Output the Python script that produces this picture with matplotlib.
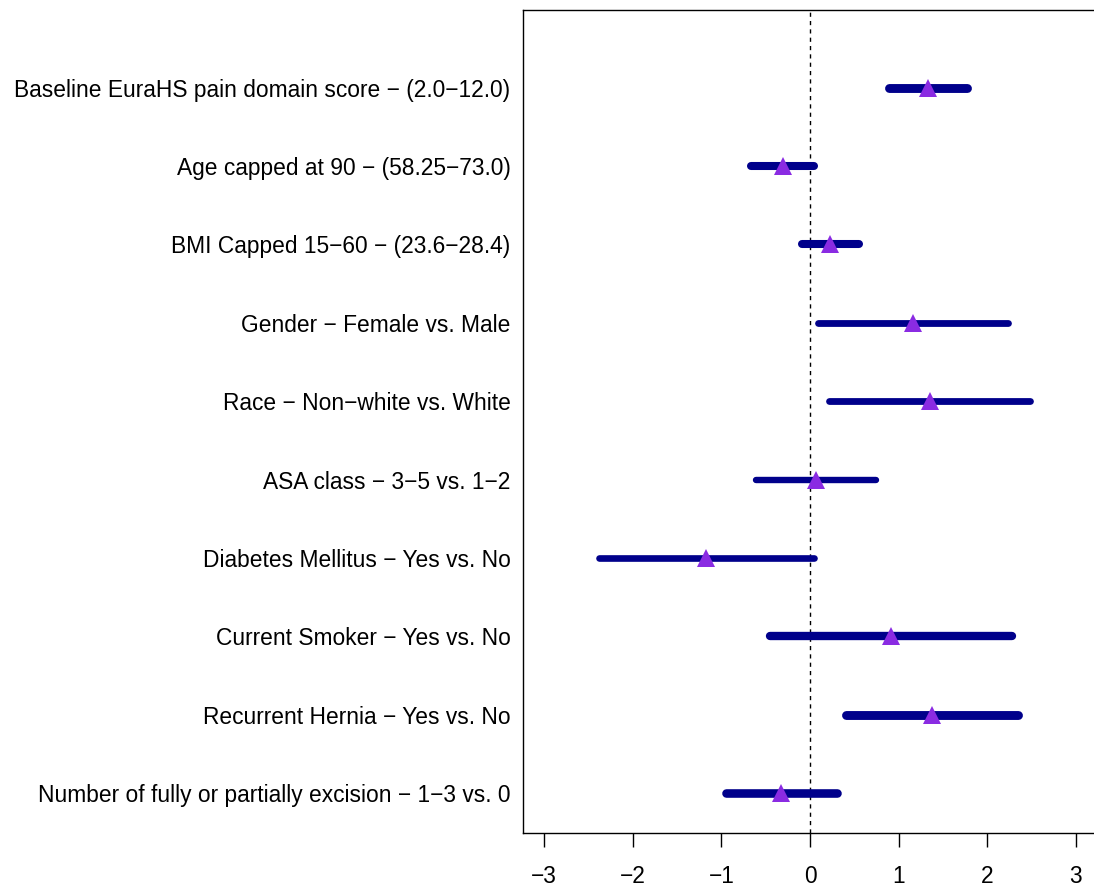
import matplotlib.pyplot as plt

# Covariates, top to bottom
labels = [
    "Baseline EuraHS pain domain score \u2212 (2.0\u221212.0)",
    "Age capped at 90 \u2212 (58.25\u221273.0)",
    "BMI Capped 15\u221260 \u2212 (23.6\u221228.4)",
    "Gender \u2212 Female vs. Male",
    "Race \u2212 Non\u2212white vs. White",
    "ASA class \u2212 3\u22125 vs. 1\u22122",
    "Diabetes Mellitus \u2212 Yes vs. No",
    "Current Smoker \u2212 Yes vs. No",
    "Recurrent Hernia \u2212 Yes vs. No",
    "Number of fully or partially excision \u2212 1\u22123 vs. 0",
]
# point estimates and interval bounds
est = [1.33, -0.31, 0.23, 1.16, 1.35, 0.07, -1.17, 0.91, 1.38, -0.33]
lower = [0.89, -0.67, -0.09, 0.09, 0.22, -0.61, -2.38, -0.45, 0.41, -0.95]
upper = [1.77, 0.05, 0.55, 2.24, 2.48, 0.74, 0.05, 2.28, 2.35, 0.30]
# bar thickness in points
widths = [6.4, 5.8, 5.8, 4.9, 4.9, 4.6, 4.8, 6.0, 6.4, 6.2]

xticks = [-3, -2, -1, 0, 1, 2, 3]

plt.rcParams['font.family'] = ['Liberation Sans', 'DejaVu Sans']

fig = plt.figure(figsize=(10.94, 8.86), dpi=100)
ax = fig.add_axes([523 / 1094, 1 - 833 / 886, (1097 - 523) / 1094, (833 - 10) / 886])

n = len(labels)
ypos = list(range(n, 0, -1))

ax.axvline(0, color='black', lw=1.0, linestyle=(0, (3, 3)), zorder=1)

for y, lo, hi, e, w in zip(ypos, lower, upper, est, widths):
    ax.plot([lo, hi], [y, y], color='#00008B', lw=w, solid_capstyle='round', zorder=2)
    ax.plot(e, y, marker='^', ms=12.5, color='#8A2BE2', mew=0, zorder=3)

ax.set_xlim(-3.24, 3.24)
ax.set_ylim(0.49, 10.99)
ax.set_xticks(xticks)
ax.set_xticklabels([str(t).replace('-', '\u2212') for t in xticks])
ax.set_yticks(ypos)
ax.set_yticklabels(labels)

ax.tick_params(axis='y', length=0, pad=9, labelsize=16.4)
ax.tick_params(axis='x', length=10, width=1.0, pad=13, labelsize=16.4)
ax.spines['right'].set_visible(False)
for s in ax.spines.values():
    s.set_linewidth(1.0)

fig.savefig('out.png', dpi=100)
